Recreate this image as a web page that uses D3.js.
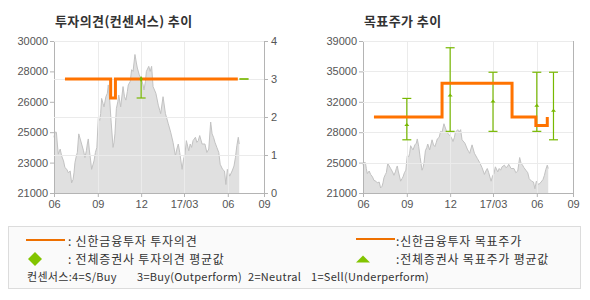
<!DOCTYPE html>
<html>
<head>
<meta charset="utf-8">
<script src="https://cdn.jsdelivr.net/npm/d3@7"></script>
<style>
  body { margin: 0; background: #fff; }
  .tick text { font-family: "Liberation Sans", Arial, sans-serif; font-size: 11px; fill: #555; }
  .ko { font-family: "Noto Sans CJK KR", sans-serif; }
</style>
</head>
<body>
<svg id="chart" width="590" height="300"></svg>
<script>
// stock price (gray area)
var priceDates = ["2016-06-01","2016-06-03","2016-06-06","2016-06-08","2016-06-10","2016-06-14","2016-06-17","2016-06-21","2016-06-24","2016-06-28",
  "2016-07-01","2016-07-05","2016-07-08","2016-07-11","2016-07-13","2016-07-15","2016-07-18","2016-07-20","2016-07-23","2016-07-26",
  "2016-07-29","2016-08-02","2016-08-05","2016-08-08","2016-08-10","2016-08-12","2016-08-14","2016-08-17","2016-08-19","2016-08-22",
  "2016-08-24","2016-08-27","2016-08-30","2016-09-02","2016-09-05","2016-09-07","2016-09-09","2016-09-12","2016-09-14","2016-09-18",
  "2016-09-21","2016-09-23","2016-09-26","2016-09-29","2016-10-03","2016-10-05","2016-10-07","2016-10-10","2016-10-13","2016-10-15",
  "2016-10-19","2016-10-24","2016-10-27","2016-10-30","2016-11-02","2016-11-04","2016-11-08","2016-11-11","2016-11-14","2016-11-18",
  "2016-11-21","2016-11-23","2016-11-27","2016-12-02","2016-12-05","2016-12-07","2016-12-10","2016-12-12","2016-12-17","2016-12-20",
  "2016-12-23","2016-12-26","2017-01-01","2017-01-06","2017-01-09","2017-01-11","2017-01-16","2017-01-21","2017-01-27","2017-02-01",
  "2017-02-06","2017-02-11","2017-02-14","2017-02-17","2017-02-20","2017-02-25","2017-02-28","2017-03-03","2017-03-06","2017-03-11",
  "2017-03-14","2017-03-17","2017-03-20","2017-03-25","2017-03-28","2017-03-31","2017-04-03","2017-04-08","2017-04-14","2017-04-18",
  "2017-04-22","2017-04-26","2017-04-29","2017-05-02","2017-05-05","2017-05-09","2017-05-13","2017-05-16","2017-05-21","2017-05-25",
  "2017-05-28","2017-05-31","2017-06-05","2017-06-10","2017-06-14","2017-06-17","2017-06-20","2017-06-23","2017-06-25"];
var priceValues = [24300,24600,24600,23900,23300,23600,23200,22900,22500,22400,
  22200,22300,21600,21800,22200,22800,23200,23400,24500,24200,
  23900,23500,23100,23500,23900,24200,23600,22900,22400,22700,
  22900,23400,23700,25400,25300,25700,26600,26300,26100,26700,
  26900,27400,26500,25200,23700,24000,24500,26000,26400,26800,
  26100,27300,26700,26500,27000,27400,27600,28300,28200,29200,
  28700,28400,28000,27700,27400,27100,27600,28200,28500,28200,
  28500,27300,26900,26200,25900,25700,26700,25700,25100,24600,
  24000,23200,23600,23900,23400,22400,23000,23300,24100,23500,
  23900,23700,24100,24300,24000,24100,24400,23900,23900,23400,
  23600,25200,24500,24300,24000,23700,23400,22700,22400,22300,
  21500,22400,22000,22300,22600,23100,23800,24300,23900];

// 투자의견 (step line)
var opinionDates = ["2016-06-24","2016-09-28","2016-10-08","2017-06-22"];
var opinionValues = [3, 2.5, 3, 3];
// 전체증권사 투자의견 (range + average)
var opConsDates = ["2016-12-01","2017-07-05"];
var opConsHigh = [3, 3];
var opConsLow = [2.5, 3];
var opConsAvg = [3, 3];

// 목표주가 (step line)
var targetDates = ["2016-06-24","2016-11-14","2017-04-10","2017-05-30","2017-06-23"];
var targetValues = [30000, 34000, 30000, 29000, 30000];
// 전체증권사 목표주가 (range + average)
var tpConsDates = ["2016-09-01","2016-12-01","2017-03-01","2017-06-01","2017-07-06"];
var tpConsHigh = [32200, 38200, 35300, 35300, 35300];
var tpConsLow = [27300, 28300, 28300, 28300, 27300];
var tpConsAvg = [29100, 32600, 31900, 31400, 30800];

// axes
var xTickDates = ["2016-06-01","2016-09-01","2016-12-01","2017-03-01","2017-06-01","2017-08-16"];
var xTickLabels = ["06","09","12","17/03","06","09"];
var leftPriceTicks = [21000, 22800, 24600, 26400, 28200, 30000];
var leftPriceLabels = ["21000","23000","25000","26000","28000","30000"];
var opinionTicks = [0, 1, 2, 3, 4];
var rightPriceTicks = [21000, 24600, 28200, 31800, 35400, 39000];
var rightPriceLabels = ["21000","25000","28000","32000","35000","39000"];

var parse = d3.timeParse("%Y-%m-%d");
var prices = priceDates.map(function(d, i) { return {date: parse(d), value: priceValues[i]}; });

var svg = d3.select("#chart");
var ORANGE = "#ff7300", GREEN = "#77b800", AXIS = "#b4b4b4", GRID = "#ebebeb";

var TOP = 41, BOTTOM = 193, PW = 210;

function drawPanel(left, title, priceDomain, priceTicks, priceLabels) {
  var g = svg.append("g");
  var x = d3.scaleTime()
    .domain([parse(xTickDates[0]), parse(xTickDates[xTickDates.length - 1])])
    .range([left, left + PW]);
  var yP = d3.scaleLinear().domain(priceDomain).range([BOTTOM, TOP]);

  g.append("text")
    .attr("class", "ko")
    .attr("x", left + 1)
    .attr("y", 26)
    .style("font-size", "13px")
    .style("font-weight", "bold")
    .style("letter-spacing", "0.4px")
    .style("fill", "#333")
    .text(title);

  g.append("path")
    .datum(prices)
    .attr("fill", "#e0e0e0")
    .attr("d", d3.area().x(function(d) { return x(d.date); }).y0(BOTTOM).y1(function(d) { return yP(d.value); }));
  g.append("path")
    .datum(prices)
    .attr("fill", "none")
    .attr("stroke", "#c2c2c2")
    .attr("stroke-width", 1)
    .attr("d", d3.line().x(function(d) { return x(d.date); }).y(function(d) { return yP(d.value); }));

  // vertical grid
  g.selectAll(".vgrid")
    .data(xTickDates.slice(1, -1))
  .enter().append("line")
    .attr("x1", function(d) { return Math.round(x(parse(d))) + 0.5; })
    .attr("x2", function(d) { return Math.round(x(parse(d))) + 0.5; })
    .attr("y1", TOP).attr("y2", BOTTOM)
    .attr("stroke", GRID);

  var xAxis = d3.axisBottom(x)
    .tickValues(xTickDates.map(parse))
    .tickSize(4)
    .tickPadding(3)
    .tickFormat(function(d, i) { return xTickLabels[i]; });
  g.append("g")
    .attr("transform", "translate(0," + BOTTOM + ")")
    .call(xAxis)
    .call(function(a) { a.selectAll("line, path").attr("stroke", AXIS); });

  var yAxis = d3.axisLeft(yP)
    .tickValues(priceTicks)
    .tickSize(4)
    .tickPadding(2)
    .tickFormat(function(d, i) { return priceLabels[i]; });
  g.append("g")
    .attr("transform", "translate(" + left + ",0)")
    .call(yAxis)
    .call(function(a) { a.selectAll("line, path").attr("stroke", AXIS); });

  return {g: g, x: x, yP: yP};
}

// ---- left: 투자의견
var L = drawPanel(54, "투자의견(컨센서스) 추이", [21000, 30000], leftPriceTicks, leftPriceLabels);
var yO = d3.scaleLinear().domain([0, 4]).range([BOTTOM, TOP]);
L.g.selectAll(".hgrid")
  .data(opinionTicks.slice(1))
.enter().append("line")
  .attr("x1", 54).attr("x2", 54 + PW)
  .attr("y1", function(d) { return Math.round(yO(d)) + 0.5; })
  .attr("y2", function(d) { return Math.round(yO(d)) + 0.5; })
  .attr("stroke", GRID);
L.g.append("g")
  .attr("transform", "translate(" + (54 + PW) + ",0)")
  .call(d3.axisRight(yO).tickValues(opinionTicks).tickSize(4).tickPadding(3).tickFormat(d3.format("d")))
  .call(function(a) { a.selectAll("line, path").attr("stroke", AXIS); });

opConsDates.forEach(function(d, i) {
  var cx = L.x(parse(d));
  L.g.append("line").attr("x1", cx).attr("x2", cx).attr("y1", yO(opConsHigh[i])).attr("y2", yO(opConsLow[i]))
    .attr("stroke", GREEN).attr("stroke-width", 1.2);
  [opConsHigh[i], opConsLow[i]].forEach(function(v) {
    L.g.append("line").attr("x1", cx - 4.5).attr("x2", cx + 4.5).attr("y1", yO(v)).attr("y2", yO(v))
      .attr("stroke", GREEN).attr("stroke-width", 1.2);
  });
});

L.g.append("path")
  .datum(opinionDates.map(function(d, i) { return {date: parse(d), value: opinionValues[i]}; }))
  .attr("fill", "none")
  .attr("stroke", ORANGE)
  .attr("stroke-width", 3)
  .attr("d", d3.line().curve(d3.curveStepAfter).x(function(d) { return L.x(d.date); }).y(function(d) { return yO(d.value); }));

L.g.selectAll(".opavg")
  .data(opConsDates.slice(0, 1))
.enter().append("path")
  .attr("transform", function(d, i) { return "translate(" + L.x(parse(d)) + "," + yO(opConsAvg[i]) + ")"; })
  .attr("d", d3.symbol(d3.symbolDiamond, 10))
  .attr("fill", GREEN);

// ---- right: 목표주가
var R = drawPanel(363, "목표주가 추이", [21000, 39000], rightPriceTicks, rightPriceLabels);
R.g.selectAll(".hgrid")
  .data(rightPriceTicks.slice(1))
.enter().append("line")
  .attr("x1", 363).attr("x2", 363 + PW)
  .attr("y1", function(d) { return Math.round(R.yP(d)) + 0.5; })
  .attr("y2", function(d) { return Math.round(R.yP(d)) + 0.5; })
  .attr("stroke", GRID);
R.g.append("line")
  .attr("x1", 363 + PW + 0.5).attr("x2", 363 + PW + 0.5)
  .attr("y1", TOP).attr("y2", BOTTOM)
  .attr("stroke", AXIS);

tpConsDates.forEach(function(d, i) {
  var cx = R.x(parse(d));
  R.g.append("line").attr("x1", cx).attr("x2", cx).attr("y1", R.yP(tpConsHigh[i])).attr("y2", R.yP(tpConsLow[i]))
    .attr("stroke", GREEN).attr("stroke-width", 1.2);
  [tpConsHigh[i], tpConsLow[i]].forEach(function(v) {
    R.g.append("line").attr("x1", cx - 4.5).attr("x2", cx + 4.5).attr("y1", R.yP(v)).attr("y2", R.yP(v))
      .attr("stroke", GREEN).attr("stroke-width", 1.2);
  });
});

R.g.append("path")
  .datum(targetDates.map(function(d, i) { return {date: parse(d), value: targetValues[i]}; }))
  .attr("fill", "none")
  .attr("stroke", ORANGE)
  .attr("stroke-width", 3)
  .attr("d", d3.line().curve(d3.curveStepAfter).x(function(d) { return R.x(d.date); }).y(function(d) { return R.yP(d.value); }));

R.g.selectAll(".tpavg")
  .data(tpConsDates)
.enter().append("path")
  .attr("transform", function(d, i) { return "translate(" + R.x(parse(d)) + "," + R.yP(tpConsAvg[i]) + ")"; })
  .attr("d", "M-2.5,1.5L0,-1.5L2.5,1.5Z")
  .attr("fill", GREEN);

// ---- legend
var lg = svg.append("g");
lg.append("rect")
  .attr("x", 8.5).attr("y", 226.5).attr("width", 572).attr("height", 62)
  .attr("fill", "#fafafa").attr("stroke", "#dcdcdc");

function legendText(x, y, t) {
  lg.append("text").attr("class", "ko").attr("x", x).attr("y", y)
    .style("font-size", "12px").style("letter-spacing", "0.8px").style("fill", "#333").text(t);
}

lg.append("line").attr("x1", 26).attr("x2", 65).attr("y1", 240).attr("y2", 240)
  .attr("stroke", "#ee7000").attr("stroke-width", 2);
legendText(68, 245.5, ": 신한금융투자 투자의견");

lg.append("path").attr("transform", "translate(35,259)")
  .attr("d", "M0,-7L7,0L0,7L-7,0Z").attr("fill", "#82c400");
legendText(68, 263.5, ": 전체증권사 투자의견 평균값");

lg.append("line").attr("x1", 356).attr("x2", 395).attr("y1", 239).attr("y2", 239)
  .attr("stroke", "#ee7000").attr("stroke-width", 2);
legendText(396, 245.5, ":신한금융투자 목표주가");

lg.append("path").attr("transform", "translate(363,259)")
  .attr("d", "M-7,3.5L0,-3.5L7,3.5Z").attr("fill", "#82c400");
legendText(396, 263.5, ":전체증권사 목표주가 평균값");

var keyParts = ["컨센서스:4=S/Buy", "3=Buy(Outperform)", "2=Neutral", "1=Sell(Underperform)"];
var keyX = [27, 137, 248, 311];
keyParts.forEach(function(t, i) {
  lg.append("text").attr("class", "ko").attr("x", keyX[i]).attr("y", 281)
    .style("font-size", "11px").style("letter-spacing", "0.3px").style("fill", "#333").text(t);
});
</script>
</body>
</html>
